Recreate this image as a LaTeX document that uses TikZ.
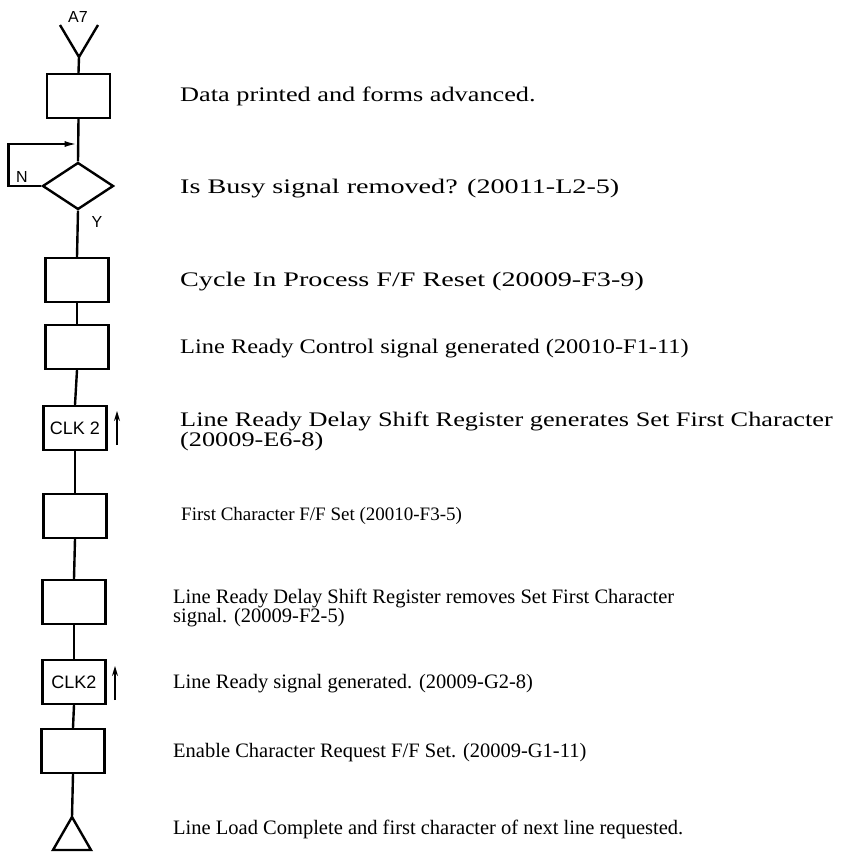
\documentclass[tikz,border=0pt]{standalone}
\usepackage{fontspec}
\setmainfont{Liberation Serif}
\newfontfamily\wideserif[FakeStretch=1.27]{Liberation Serif}
\newfontfamily\widerserif[FakeStretch=1.36]{Liberation Serif}
\newfontfamily\midserif[FakeStretch=1.18]{Liberation Serif}
\newfontfamily\letterfont{Liberation Sans}
\usetikzlibrary{shapes.geometric,arrows.meta}

\tikzset{
    box/.style={draw, line width=2.4pt, minimum width=63pt, minimum height=44pt, inner sep=0pt, font=\letterfont\fontsize{18}{18}\selectfont},
    decision/.style={draw, diamond, line width=2.4pt, minimum width=71pt, minimum height=47pt, inner sep=0pt},
    flow/.style={line width=2.4pt},
    tag/.style={font=\letterfont\fontsize{16}{16}\selectfont, inner sep=0pt},
    note/.style={anchor=base west, inner sep=0pt, align=left, font=\fontsize{20.5}{19}\selectfont},
    widenote/.style={note, font=\wideserif\fontsize{20.7}{20}\selectfont},
    widernote/.style={note, font=\widerserif\fontsize{20.7}{20}\selectfont},
    midnote/.style={note, font=\midserif\fontsize{20.7}{20}\selectfont},
    clock/.style={line width=1.3pt, -{Stealth[length=10pt,width=6pt]}}
}

\begin{document}
\begin{tikzpicture}[x=1pt, y=-1pt]
    \useasboundingbox (0,0) rectangle (848,854);
    % Entry connector
    \node[tag] (entry) at (78,17) {A7};
    \coordinate (inL) at (60,25);
    \coordinate (inR) at (98,25);
    \coordinate (inJ) at (79,57);
    % Flow column
    \node[box] (b1) at (78.5,96) {};
    \node[decision] (busy) at (78,186) {};
    \node[box] (b3) at (77,280) {};
    \node[box] (b4) at (77,347) {};
    \node[box] (b5) at (75,428) {CLK 2};
    \node[box] (b6) at (75,516) {};
    \node[box] (b7) at (74,602) {};
    \node[box] (b8) at (74,682) {CLK2};
    \node[box] (b9) at (73,751) {};
    \coordinate (exit) at (72,817);
    \draw[flow] (inL) -- (inJ) -- (inR);
    \draw[flow] (inJ) -- (b1.north);
    \draw[flow] (b1.south) -- (busy.north);
    \draw[flow] (busy.south) -- (b3.north);
    \draw[flow] (b3.south) -- (b4.north);
    \draw[flow] (b4.south) -- (b5.north);
    \draw[flow] (b5.south) -- (b6.north);
    \draw[flow] (b6.south) -- (b7.north);
    \draw[flow] (b7.south) -- (b8.north);
    \draw[flow] (b8.south) -- (b9.north);
    \draw[flow] (b9.south) -- (exit);
    \draw[flow, line join=miter] (exit) -- ++(-19,33) -- ++(38,0) -- cycle;
    % Busy loop
    \coordinate (rejoin) at (78.5,144);
    \draw[flow, -{Latex[open,length=14pt,width=6pt]}] (busy.west) -- ++(-33,0) |- (rejoin);
    \node[tag] (no) at (22,177) {N};
    \node[tag] (yes) at (97,222) {Y};
    % Clock pulses
    \coordinate (ck1) at (117,445);
    \coordinate (ck2) at (115,700);
    \draw[clock] (ck1) -- ++(0,-34);
    \draw[clock] (ck2) -- ++(0,-34);
    % Descriptions
    \node[widenote] (t1) at (180,101.7) {Data printed and forms advanced.};
    \node[widernote] (t2) at (180,193) {Is Busy signal removed? (20011-L2-5)};
    \node[widernote] (t3) at (180,286) {Cycle In Process F/F Reset (20009-F3-9)};
    \node[midnote] (t4) at (180,353) {Line Ready Control signal generated (20010-F1-11)};
    \node[widenote] (t5) at (180,446) {Line Ready Delay Shift Register generates Set First Character\\(20009-E6-8)};
    \node[note, font=\fontsize{19}{19}\selectfont] (t6) at (181,520) {First Character F/F Set (20010-F3-5)};
    \node[note] (t7) at (173,622) {Line Ready Delay Shift Register removes Set First Character\\signal. (20009-F2-5)};
    \node[note] (t8) at (173,688) {Line Ready signal generated. (20009-G2-8)};
    \node[note] (t9) at (173,757) {Enable Character Request F/F Set. (20009-G1-11)};
    \node[note] (t10) at (173,834) {Line Load Complete and first character of next line requested.};
\end{tikzpicture}
\end{document}
